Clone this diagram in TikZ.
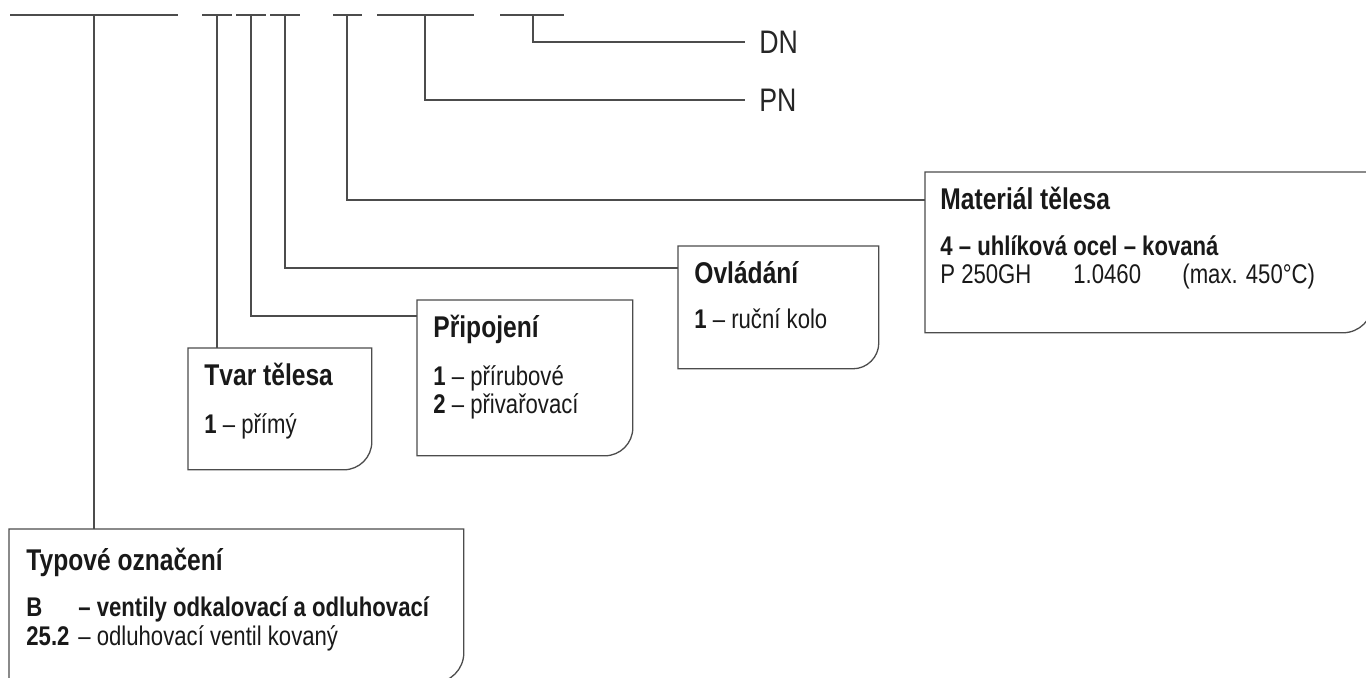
\documentclass[tikz,border=0pt]{standalone}
\usepackage{fontspec}
\setmainfont{Liberation Sans}[FakeStretch=0.82]
\usepackage{tikz}
\usetikzlibrary{calc}
\tikzset{
	lead/.style={line width=0.65pt, draw=black!70},
	infobox/.style={anchor=north west, inner sep=0pt},
	boxtitle/.style={anchor=base west, inner sep=0pt, text=black!90, font=\fontsize{15}{15}\selectfont\bfseries},
	boxbody/.style={anchor=base west, inner sep=0pt, align=left, text=black!90, font=\fontsize{13.5}{14}\selectfont},
	code/.style={anchor=west, inner sep=7pt, text=black!85, font=\fontsize{16.3}{18}\selectfont}
}
\newcommand{\cornerframe}[2]{\draw[lead] (#1.north west) -- (#1.north east) -- ([yshift=#2]#1.south east) arc[start angle=0, end angle=-90, radius=#2] -- (#1.south west) -- cycle;}

\begin{document}
\begin{tikzpicture}[x=0.5pt,y=-0.5pt]
			\useasboundingbox (0,0) rectangle (1366,678);
			
			% Leiste oben
			\draw[lead] (10,15) -- (178,15);
			\draw[lead] (202,15) -- (232,15);
			\draw[lead] (236,15) -- (266,15);
			\draw[lead] (270,15) -- (300,15);
			\draw[lead] (333,15) -- (362,15);
			\draw[lead] (377,15) -- (474,15);
			\draw[lead] (500,15) -- (564,15);
			\coordinate (k1) at (94,15);
			\coordinate (k2) at (217,15);
			\coordinate (k3) at (251,15);
			\coordinate (k4) at (285,15);
			\coordinate (k5) at (347,15);
			\coordinate (k6) at (425,15);
			\coordinate (k7) at (533,15);
			
			% Kaesten
			\node[infobox, minimum width=227pt, minimum height=76.5pt] (typ) at (9,529) {};
			\node[infobox, minimum width=91.5pt, minimum height=60.5pt] (tvar) at (188,348) {};
			\node[infobox, minimum width=107.5pt, minimum height=77.5pt] (pripoj) at (417,300) {};
			\node[infobox, minimum width=100pt, minimum height=61pt] (ovl) at (678,246) {};
			\node[infobox, minimum width=223.5pt, minimum height=80pt] (mat) at (925,172) {};
			\cornerframe{typ}{15pt}
			\cornerframe{tvar}{14pt}
			\cornerframe{pripoj}{14pt}
			\cornerframe{ovl}{13pt}
			\cornerframe{mat}{15pt}
			
			% Texte (base = letzte Zeile)
			\node[boxtitle] (typ-h) at ([shift={(8.5pt,-21pt)}]typ.north west) {Typové označení};
			\node[boxbody] (typ-b) at ([yshift=-37pt]typ-h.base west) {\textbf{\makebox[26pt][l]{B}– ventily odkalovací a odluhovací}\\\makebox[26pt][l]{\textbf{25.2}}– odluhovací ventil kovaný};
			
			\node[boxtitle] (tvar-h) at ([shift={(8pt,-19pt)}]tvar.north west) {Tvar tělesa};
			\node[boxbody] (tvar-b) at ([yshift=-24pt]tvar-h.base west) {\textbf{1} – přímý};
			
			\node[boxtitle] (pripoj-h) at ([shift={(8pt,-19pt)}]pripoj.north west) {Připojení};
			\node[boxbody] (pripoj-b) at ([yshift=-38pt]pripoj-h.base west) {\textbf{1} – přírubové\\\textbf{2} – přivařovací};
			
			\node[boxtitle] (ovl-h) at ([shift={(8pt,-19pt)}]ovl.north west) {Ovládání};
			\node[boxbody] (ovl-b) at ([yshift=-22.5pt]ovl-h.base west) {\textbf{1} – ruční kolo};
			
			\node[boxtitle] (mat-h) at ([shift={(7.5pt,-19pt)}]mat.north west) {Materiál tělesa};
			\node[boxbody] (mat-b) at ([yshift=-37pt]mat-h.base west) {\textbf{4 – uhlíková ocel – kovaná}\\\makebox[66.5pt][l]{P 250GH}\makebox[54.5pt][l]{1.0460}(max. 450°C)};
			
			\node[code] (pn) at (745,100) {PN};
			\node[code] (dn) at (745,42) {DN};
			
			% Verbindungen
			\draw[lead] (k1) -- (k1 |- typ.north);
			\draw[lead] (k2) -- (k2 |- tvar.north);
			\draw[lead] (k3) |- ([yshift=-8pt]pripoj.north west);
			\draw[lead] (k4) |- ([yshift=-11pt]ovl.north west);
			\draw[lead] (k5) |- ([yshift=-14pt]mat.north west);
			\draw[lead] (k6) |- (pn.west);
			\draw[lead] (k7) |- (dn.west);
\end{tikzpicture}
\end{document}
